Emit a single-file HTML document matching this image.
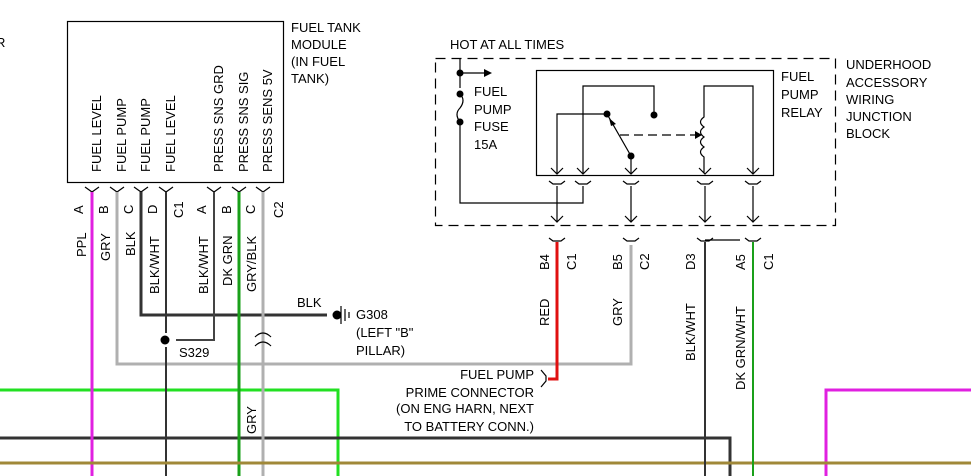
<!DOCTYPE html>
<html><head><meta charset="utf-8"><style>
html,body{margin:0;padding:0;background:#fff;}
svg{display:block;}
text{font-family:"Liberation Sans",sans-serif;font-size:13px;fill:#000;}
</style></head><body>
<svg width="971" height="476" viewBox="0 0 971 476" xmlns="http://www.w3.org/2000/svg">
<defs>
<g id="m"><path d="M-7,0 L0,5 L7,0" fill="none" stroke="#000" stroke-width="1.2"/></g>
<g id="f"><path d="M-8,0 L-4,3 L4,3 L8,0" fill="none" stroke="#000" stroke-width="1.2"/></g>
<g id="ar"><path d="M-6,-6 L0,0 L6,-6" fill="none" stroke="#000" stroke-width="1.2"/></g>
</defs>
<text x="-4" y="47">R</text>
<rect x="67.5" y="21.5" width="216" height="161" fill="none" stroke="#000" stroke-width="1.2"/>
<text x="291" y="32">FUEL TANK</text>
<text x="291" y="49">MODULE</text>
<text x="291" y="66">(IN FUEL</text>
<text x="291" y="83">TANK)</text>
<g font-size="13">
<text transform="translate(101,172) rotate(-90)">FUEL LEVEL</text>
<text transform="translate(126,172) rotate(-90)">FUEL PUMP</text>
<text transform="translate(150,172) rotate(-90)">FUEL PUMP</text>
<text transform="translate(175,172) rotate(-90)">FUEL LEVEL</text>
<text transform="translate(223,172) rotate(-90)">PRESS SNS GRD</text>
<text transform="translate(248,172) rotate(-90)">PRESS SNS SIG</text>
<text transform="translate(272,172) rotate(-90)">PRESS SENS 5V</text>
</g>
<g>
<use href="#m" x="92" y="187"/><use href="#m" x="117" y="187"/><use href="#m" x="141" y="187"/><use href="#m" x="166" y="187"/>
<use href="#m" x="214" y="187"/><use href="#m" x="239" y="187"/><use href="#m" x="263" y="187"/>
</g>
<g>
<text transform="translate(83,214) rotate(-90)">A</text>
<text transform="translate(108,214) rotate(-90)">B</text>
<text transform="translate(133,214) rotate(-90)">C</text>
<text transform="translate(157,214) rotate(-90)">D</text>
<text transform="translate(183,218) rotate(-90)">C1</text>
<text transform="translate(206,214) rotate(-90)">A</text>
<text transform="translate(231,214) rotate(-90)">B</text>
<text transform="translate(255,214) rotate(-90)">C</text>
<text transform="translate(283,218) rotate(-90)">C2</text>
<text transform="translate(86,257) rotate(-90)">PPL</text>
<text transform="translate(110,261) rotate(-90)">GRY</text>
<text transform="translate(135,256) rotate(-90)">BLK</text>
<text transform="translate(159,294) rotate(-90)">BLK/WHT</text>
<text transform="translate(208,294) rotate(-90)">BLK/WHT</text>
<text transform="translate(232,286) rotate(-90)">DK GRN</text>
<text transform="translate(256,292) rotate(-90)">GRY/BLK</text>
<text transform="translate(256,434) rotate(-90)">GRY</text>
</g>
<path d="M0,390 H338 V476" fill="none" stroke="#22e022" stroke-width="3"/>
<path d="M0,438 H730 V476" fill="none" stroke="#333" stroke-width="3"/>
<path d="M826,476 V390 H971" fill="none" stroke="#e020e0" stroke-width="3"/>
<path d="M92,192 V476" stroke="#e020e0" stroke-width="3"/>
<path d="M117,192 V364 H631 V245" fill="none" stroke="#b0b0b0" stroke-width="3"/>
<path d="M141,192 V315 H327" fill="none" stroke="#333" stroke-width="3"/>
<path d="M166,192 V333 M166,347 V476" fill="none" stroke="#333" stroke-width="2"/>
<path d="M214,192 V340 H176" fill="none" stroke="#444" stroke-width="2"/>
<path d="M239,192 V476" stroke="#1aa01a" stroke-width="3"/>
<path d="M263,192 V476" stroke="#b0b0b0" stroke-width="3"/>
<path d="M0,463 H971" stroke="#a08838" stroke-width="3"/>
<circle cx="165" cy="340" r="4.5" fill="#000"/>
<text x="179" y="357">S329</text>
<path d="M255,337 Q263,329 271,337 M255,346 Q263,338 271,346" fill="none" stroke="#000" stroke-width="1.2"/>
<text x="297" y="307">BLK</text>
<circle cx="337" cy="315" r="4.5" fill="#000"/>
<path d="M341,306 V324 M345,309 V321 M349,312 V318" stroke="#000" stroke-width="1.2"/>
<text x="356" y="319">G308</text>
<text x="356" y="337">(LEFT "B"</text>
<text x="356" y="355">PILLAR)</text>
<text x="450" y="49">HOT AT ALL TIMES</text>
<rect x="435.5" y="58.5" width="400" height="167" fill="none" stroke="#000" stroke-width="1.2" stroke-dasharray="10,6"/>
<text x="846" y="69">UNDERHOOD</text>
<text x="846" y="87">ACCESSORY</text>
<text x="846" y="104">WIRING</text>
<text x="846" y="121">JUNCTION</text>
<text x="846" y="138">BLOCK</text>
<path d="M460,58 V88 M460,124 V203 H583 V186" fill="none" stroke="#000" stroke-width="1.2"/>
<circle cx="460" cy="73" r="3.5" fill="#000"/>
<path d="M460,73 H484" stroke="#000" stroke-width="1.2"/>
<path d="M484,69 L492,73 L484,77 Z" fill="#000"/>
<circle cx="460" cy="94" r="3.5" fill="#000"/>
<path d="M460,94 Q466,100 460,108 Q454,114 460,122" fill="none" stroke="#000" stroke-width="1.2"/>
<circle cx="460" cy="122" r="3.5" fill="#000"/>
<text x="474" y="96">FUEL</text>
<text x="474" y="114">PUMP</text>
<text x="474" y="131">FUSE</text>
<text x="474" y="149">15A</text>
<rect x="536.5" y="70.5" width="237" height="105" fill="none" stroke="#000" stroke-width="1.2"/>
<text x="781" y="81">FUEL</text>
<text x="781" y="99">PUMP</text>
<text x="781" y="117">RELAY</text>
<g fill="none" stroke="#000" stroke-width="1.2">
<path d="M583,173 V86 H654 V115"/>
<path d="M557,173 V114 H607"/>
<path d="M607,114 L631,156 V173"/>
<path d="M620,135 H700" stroke-dasharray="9,5"/>
<path d="M753,173 V86 H704 V117 Q697,122 704,127 Q697,132 704,137 Q697,142 704,147 Q697,152 704,157 V173"/>
<path d="M557,186 V222 M631,186 V222 M705,186 V222 M753,186 V222"/>
<path d="M705,240 H740"/>
</g>
<circle cx="654" cy="115" r="3.5" fill="#000"/>
<circle cx="607" cy="114" r="3.5" fill="#000"/>
<circle cx="631" cy="156" r="3.5" fill="#000"/>
<path d="M609,118 L616,124 L611,126 Z" fill="#000"/>
<path d="M695,131 L702,135 L695,139 Z" fill="#000"/>
<use href="#ar" x="557" y="174"/><use href="#ar" x="583" y="174"/><use href="#ar" x="631" y="174"/><use href="#ar" x="705" y="174"/><use href="#ar" x="753" y="174"/>
<use href="#f" x="557" y="181"/><use href="#f" x="583" y="181"/><use href="#f" x="631" y="181"/><use href="#f" x="705" y="181"/><use href="#f" x="753" y="181"/>
<use href="#ar" x="557" y="222"/><use href="#ar" x="631" y="222"/><use href="#ar" x="705" y="222"/><use href="#ar" x="753" y="222"/>
<use href="#f" x="557" y="238"/><use href="#f" x="631" y="238"/><use href="#f" x="705" y="238"/><use href="#f" x="753" y="238"/>
<path d="M557,242 V379 H548" fill="none" stroke="#e01010" stroke-width="3"/>
<path d="M705,242 V476" stroke="#333" stroke-width="2"/>
<path d="M753,242 V476" stroke="#1aa01a" stroke-width="2"/>
<path d="M541,370 L546,376 L546,381 L541,387" fill="none" stroke="#000" stroke-width="1.2"/>
<text transform="translate(549,270) rotate(-90)">B4</text>
<text transform="translate(576,270) rotate(-90)">C1</text>
<text transform="translate(622,270) rotate(-90)">B5</text>
<text transform="translate(649,270) rotate(-90)">C2</text>
<text transform="translate(695,270) rotate(-90)">D3</text>
<text transform="translate(745,270) rotate(-90)">A5</text>
<text transform="translate(773,270) rotate(-90)">C1</text>
<text transform="translate(549,326) rotate(-90)">RED</text>
<text transform="translate(622,326) rotate(-90)">GRY</text>
<text transform="translate(695,361) rotate(-90)">BLK/WHT</text>
<text transform="translate(745,390) rotate(-90)">DK GRN/WHT</text>
<g text-anchor="end">
<text x="534" y="379">FUEL PUMP</text>
<text x="534" y="397">PRIME CONNECTOR</text>
<text x="534" y="413">(ON ENG HARN, NEXT</text>
<text x="534" y="431">TO BATTERY CONN.)</text>
</g>
</svg>
</body></html>
